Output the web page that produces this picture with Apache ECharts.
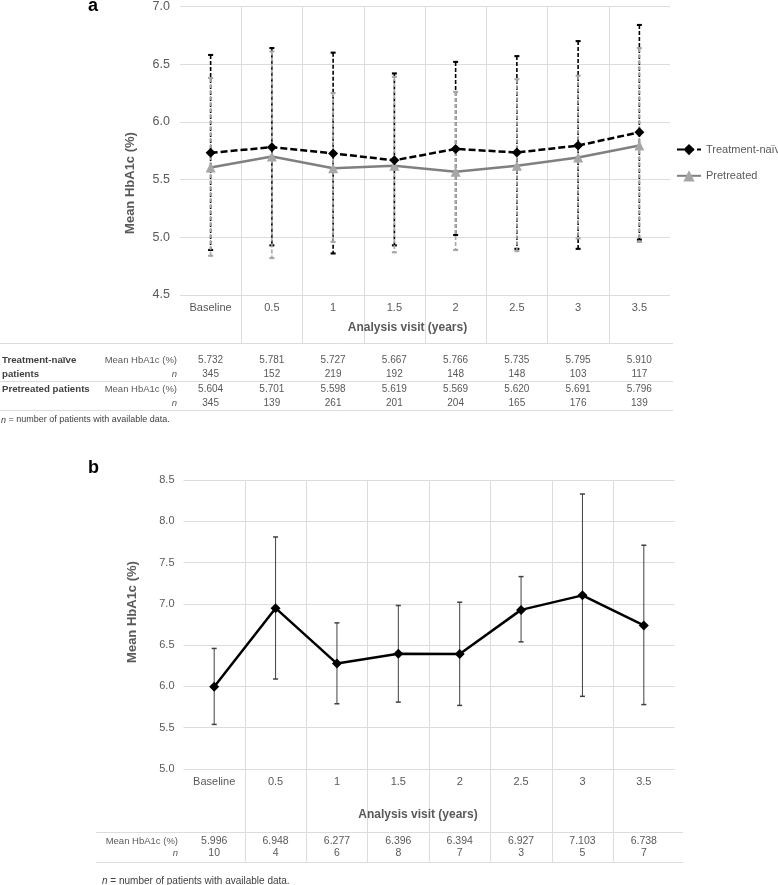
<!DOCTYPE html>
<html><head><meta charset="utf-8">
<script src="https://cdn.jsdelivr.net/npm/echarts@6/dist/echarts.min.js"></script>
<style>html,body{margin:0;padding:0;background:#fff}#c{width:778px;height:885px}</style>
</head><body><div id="c"></div>
<script>
// ---------- data ----------
const categories = ['Baseline', '0.5', '1', '1.5', '2', '2.5', '3', '3.5'];

const naiveMean  = [5.732, 5.781, 5.727, 5.667, 5.766, 5.735, 5.795, 5.910];
const naiveUpper = [6.58, 6.64, 6.60, 6.42, 6.52, 6.57, 6.70, 6.84];
const naiveLower = [4.89, 4.93, 4.86, 4.93, 5.02, 4.90, 4.90, 4.98];
const naiveN     = [345, 152, 219, 192, 148, 148, 103, 117];

const pretreatedMean  = [5.604, 5.701, 5.598, 5.619, 5.569, 5.620, 5.691, 5.796];
const pretreatedUpper = [6.38, 6.61, 6.25, 6.39, 6.26, 6.37, 6.40, 6.64];
const pretreatedLower = [4.84, 4.82, 4.96, 4.87, 4.89, 4.88, 4.99, 4.96];
const pretreatedN     = [345, 139, 261, 201, 204, 165, 176, 139];

const bMean  = [5.996, 6.948, 6.277, 6.396, 6.394, 6.927, 7.103, 6.738];
const bUpper = [6.46, 7.81, 6.77, 6.98, 7.02, 7.33, 8.33, 7.71];
const bLower = [5.54, 6.09, 5.79, 5.81, 5.77, 6.54, 5.88, 5.78];
const bN     = [10, 4, 6, 8, 7, 3, 5, 7];

const yRangeA = {min: 4.5, max: 7.0, interval: 0.5};
const yRangeB = {min: 5.0, max: 8.5, interval: 0.5};

// ---------- styling ----------
const FONT = "'Liberation Sans', Arial, Helvetica, sans-serif";
const GRID_COLOR = '#dcdcdc';
const TXT = '#595959';
const TXT_DARK = '#404040';

const chart = echarts.init(document.getElementById('c'));

function errData(lo, hi) { return lo.map((v, i) => [i, v, hi[i]]); }

function errRender(color, dash, width, cap) {
  return function (params, api) {
    const x = api.value(0);
    const lo = api.coord([x, api.value(1)]);
    const hi = api.coord([x, api.value(2)]);
    const capStyle = {stroke: color, lineWidth: width + 0.5};
    return {
      type: 'group',
      children: [
        {type: 'line', shape: {x1: hi[0], y1: hi[1], x2: lo[0], y2: lo[1]},
         style: {stroke: color, lineWidth: width, lineDash: dash}},
        {type: 'line', shape: {x1: hi[0] - cap, y1: hi[1], x2: hi[0] + cap, y2: hi[1]}, style: capStyle},
        {type: 'line', shape: {x1: lo[0] - cap, y1: lo[1], x2: lo[0] + cap, y2: lo[1]}, style: capStyle}
      ]
    };
  };
}

function tableAxis(gridIndex, offset, fmt, size) {
  return {
    type: 'category', gridIndex, data: categories, position: 'bottom', offset,
    boundaryGap: true,
    axisLine: {show: false}, axisTick: {show: false}, splitLine: {show: false},
    axisLabel: {interval: 0, margin: 0, verticalAlign: 'middle', color: TXT,
                fontFamily: FONT, fontSize: size, formatter: fmt}
  };
}

function vLineAxis(gridIndex) {
  return {
    type: 'value', gridIndex, min: 0, max: 8, interval: 1,
    axisLine: {show: false}, axisTick: {show: false}, axisLabel: {show: false},
    splitLine: {show: true, showMinLine: false, showMaxLine: false,
                lineStyle: {color: GRID_COLOR, width: 1}}
  };
}
function hiddenY(gridIndex) {
  return {type: 'value', gridIndex, min: 0, max: 1, show: false, splitLine: {show: false}};
}

// grid geometry (layout only)
const gA = {left: 180, top: 6, width: 490, height: 289};
const gB = {left: 183.5, top: 480, width: 491, height: 289};

const rowsA = [360, 374, 389, 403];
const rowsB = [841, 853];

const option = {
  animation: false,
  textStyle: {fontFamily: FONT},
  grid: [
    gA,
    {left: gA.left, top: gA.top, width: gA.width, height: 337},
    gB,
    {left: gB.left, top: gB.top, width: gB.width, height: 382}
  ],
  legend: {
    data: ['Treatment-naïve', 'Pretreated'],
    orient: 'vertical', left: 671, top: 139,
    itemWidth: 24, itemHeight: 14, itemGap: 15,
    textStyle: {color: TXT, fontSize: 11, fontFamily: FONT}
  },
  xAxis: [
    { // 0: chart a main
      type: 'category', gridIndex: 0, data: categories, boundaryGap: true,
      axisLine: {show: false}, axisTick: {show: false}, splitLine: {show: false},
      axisLabel: {interval: 0, margin: 13, verticalAlign: 'middle', color: TXT, fontSize: 11, fontFamily: FONT},
      name: 'Analysis visit (years)', nameLocation: 'middle', nameGap: 33,
      nameTextStyle: {fontWeight: 'bold', fontSize: 12, color: TXT, verticalAlign: 'middle',
                      fontFamily: FONT, padding: [0, 35, 0, 0]}
    },
    tableAxis(0, rowsA[0] - 295, (v, i) => naiveMean[i].toFixed(3), 10),
    tableAxis(0, rowsA[1] - 295, (v, i) => String(naiveN[i]), 10),
    tableAxis(0, rowsA[2] - 295, (v, i) => pretreatedMean[i].toFixed(3), 10),
    tableAxis(0, rowsA[3] - 295, (v, i) => String(pretreatedN[i]), 10),
    vLineAxis(1),
    { // 6: chart b main
      type: 'category', gridIndex: 2, data: categories, boundaryGap: true,
      axisLine: {show: false}, axisTick: {show: false}, splitLine: {show: false},
      axisLabel: {interval: 0, margin: 13, verticalAlign: 'middle', color: TXT, fontSize: 11, fontFamily: FONT},
      name: 'Analysis visit (years)', nameLocation: 'middle', nameGap: 46,
      nameTextStyle: {fontWeight: 'bold', fontSize: 12, color: TXT, verticalAlign: 'middle',
                      fontFamily: FONT, padding: [0, 22, 0, 0]}
    },
    tableAxis(2, rowsB[0] - 769, (v, i) => bMean[i].toFixed(3), 10.5),
    tableAxis(2, rowsB[1] - 769, (v, i) => String(bN[i]), 10.5),
    vLineAxis(3)
  ],
  yAxis: [
    {
      type: 'value', gridIndex: 0, min: yRangeA.min, max: yRangeA.max, interval: yRangeA.interval,
      axisLine: {show: false}, axisTick: {show: false},
      axisLabel: {margin: 10, color: TXT, fontSize: 12.5, fontFamily: FONT, formatter: v => v.toFixed(1)},
      splitLine: {show: true, lineStyle: {color: GRID_COLOR, width: 1}}
    },
    hiddenY(1),
    {
      type: 'value', gridIndex: 2, min: yRangeB.min, max: yRangeB.max, interval: yRangeB.interval,
      axisLine: {show: false}, axisTick: {show: false},
      axisLabel: {margin: 9, color: TXT, fontSize: 11, fontFamily: FONT, formatter: v => v.toFixed(1)},
      splitLine: {show: true, lineStyle: {color: GRID_COLOR, width: 1}}
    },
    hiddenY(3)
  ],
  series: [
    {
      type: 'custom', name: 'naiveErr', xAxisIndex: 0, yAxisIndex: 0, z: 3,
      data: errData(naiveLower, naiveUpper), encode: {x: 0, y: [1, 2]},
      renderItem: errRender('#000000', [4, 2], 1.6, 2.5)
    },
    {
      type: 'custom', name: 'pretreatedErr', xAxisIndex: 0, yAxisIndex: 0, z: 4,
      data: errData(pretreatedLower, pretreatedUpper), encode: {x: 0, y: [1, 2]},
      renderItem: errRender('#a6a6a6', [4, 2], 1.6, 2.5)
    },
    {
      type: 'line', name: 'Pretreated', xAxisIndex: 0, yAxisIndex: 0, z: 5,
      data: pretreatedMean, symbol: 'triangle', symbolSize: 10,
      lineStyle: {color: '#808080', width: 2.5},
      itemStyle: {color: '#a6a6a6'}
    },
    {
      type: 'line', name: 'Treatment-naïve', xAxisIndex: 0, yAxisIndex: 0, z: 6,
      data: naiveMean, symbol: 'diamond', symbolSize: 10,
      lineStyle: {color: '#000000', width: 2.5, type: [7, 3]},
      itemStyle: {color: '#000000'}
    },
    {
      type: 'custom', name: 'bErr', xAxisIndex: 6, yAxisIndex: 2, z: 3,
      data: errData(bLower, bUpper), encode: {x: 0, y: [1, 2]},
      renderItem: errRender('#404040', null, 1, 2.5)
    },
    {
      type: 'line', name: 'b', xAxisIndex: 6, yAxisIndex: 2, z: 5,
      data: bMean, symbol: 'diamond', symbolSize: 10,
      lineStyle: {color: '#000000', width: 2.5},
      itemStyle: {color: '#000000'}
    }
  ],
  graphic: [
    {type: 'text', x: 88, y: 6, style: {text: 'a', font: 'bold 18px ' + FONT, fill: '#000', verticalAlign: 'middle'}},
    {type: 'text', x: 88, y: 468, style: {text: 'b', font: 'bold 18px ' + FONT, fill: '#000', verticalAlign: 'middle'}},
    {type: 'text', x: 130, y: 183, rotation: Math.PI / 2,
     style: {text: 'Mean HbA1c (%)', font: 'bold 13px ' + FONT, fill: TXT, align: 'center', verticalAlign: 'middle'}},
    {type: 'text', x: 132, y: 612, rotation: Math.PI / 2,
     style: {text: 'Mean HbA1c (%)', font: 'bold 13px ' + FONT, fill: TXT, align: 'center', verticalAlign: 'middle'}},
    {type: 'line', shape: {x1: 0, y1: 343.5, x2: 673, y2: 343.5}, style: {stroke: GRID_COLOR, lineWidth: 1}},
    {type: 'line', shape: {x1: 0, y1: 381.5, x2: 673, y2: 381.5}, style: {stroke: GRID_COLOR, lineWidth: 1}},
    {type: 'line', shape: {x1: 0, y1: 410.5, x2: 673, y2: 410.5}, style: {stroke: GRID_COLOR, lineWidth: 1}},
    {type: 'text', x: 2, y: rowsA[0], style: {text: 'Treatment-naïve', font: 'bold 9.7px ' + FONT, fill: TXT_DARK, verticalAlign: 'middle'}},
    {type: 'text', x: 2, y: rowsA[1], style: {text: 'patients', font: 'bold 9.7px ' + FONT, fill: TXT_DARK, verticalAlign: 'middle'}},
    {type: 'text', x: 2, y: rowsA[2], style: {text: 'Pretreated patients', font: 'bold 9.7px ' + FONT, fill: TXT_DARK, verticalAlign: 'middle'}},
    {type: 'text', x: 177, y: rowsA[0], style: {text: 'Mean HbA1c (%)', font: '9.5px ' + FONT, fill: TXT, align: 'right', verticalAlign: 'middle'}},
    {type: 'text', x: 177, y: rowsA[1], style: {text: 'n', font: 'italic 9.5px ' + FONT, fill: TXT, align: 'right', verticalAlign: 'middle'}},
    {type: 'text', x: 177, y: rowsA[2], style: {text: 'Mean HbA1c (%)', font: '9.5px ' + FONT, fill: TXT, align: 'right', verticalAlign: 'middle'}},
    {type: 'text', x: 177, y: rowsA[3], style: {text: 'n', font: 'italic 9.5px ' + FONT, fill: TXT, align: 'right', verticalAlign: 'middle'}},
    {type: 'text', x: 1, y: 420, style: {text: '{i|n} = number of patients with available data.', font: '9px ' + FONT, fill: TXT_DARK, verticalAlign: 'middle',
      rich: {i: {fontStyle: 'italic', fontSize: 9, fontFamily: FONT, fill: TXT_DARK}}}},
    {type: 'line', shape: {x1: 96, y1: 832.5, x2: 683, y2: 832.5}, style: {stroke: GRID_COLOR, lineWidth: 1}},
    {type: 'line', shape: {x1: 96, y1: 862.5, x2: 683, y2: 862.5}, style: {stroke: GRID_COLOR, lineWidth: 1}},
    {type: 'text', x: 178, y: rowsB[0], style: {text: 'Mean HbA1c (%)', font: '9.5px ' + FONT, fill: TXT, align: 'right', verticalAlign: 'middle'}},
    {type: 'text', x: 178, y: rowsB[1], style: {text: 'n', font: 'italic 9.5px ' + FONT, fill: TXT, align: 'right', verticalAlign: 'middle'}},
    {type: 'text', x: 102, y: 881, style: {text: '{i|n} = number of patients with available data.', font: '10px ' + FONT, fill: TXT_DARK, verticalAlign: 'middle',
      rich: {i: {fontStyle: 'italic', fontSize: 10, fontFamily: FONT, fill: TXT_DARK}}}}
  ]
};

chart.setOption(option);
</script></body></html>
